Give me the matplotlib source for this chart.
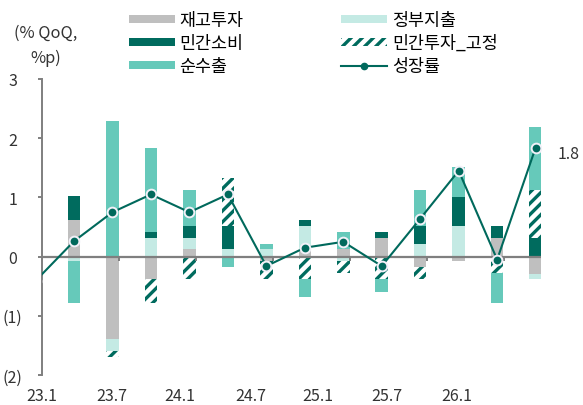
import numpy as np
import matplotlib
matplotlib.use("Agg")
from matplotlib import pyplot as plt
from matplotlib.lines import Line2D

plt.rcParams['font.family'] = ['Noto Sans CJK KR', 'DejaVu Sans']
plt.rcParams['hatch.linewidth'] = 2.4

# quarters (bars), growth line also has the 22.4 point that falls off the left edge
quarters = ['23.1', '23.2', '23.3', '23.4', '24.1', '24.2', '24.3', '24.4',
            '25.1', '25.2', '25.3', '25.4', '26.1']
inventory = [0.61, -1.39, -0.38, 0.12, 0.0, -0.07, 0.09, 0.12, 0.32, -0.18, -0.08, 0.32, -0.30]
government = [-0.08, -0.20, 0.32, 0.20, 0.12, 0.12, 0.42, -0.08, 0.0, 0.22, 0.51, 0.0, -0.08]
consumption = [0.41, 0.0, 0.10, 0.20, 0.39, 0.0, 0.10, 0.0, 0.10, 0.30, 0.50, 0.20, 0.32]
investment = [0.0, -0.11, -0.40, -0.38, 0.81, -0.31, -0.38, -0.20, -0.38, -0.20, 0.0, -0.28, 0.80]
net_exports = [-0.70, 2.29, 1.41, 0.60, -0.18, 0.10, -0.30, 0.30, -0.21, 0.60, 0.50, -0.50, 1.07]
growth = [-0.41, 0.26, 0.75, 1.05, 0.75, 1.05, -0.16, 0.15, 0.25, -0.16, 0.64, 1.45, -0.05, 1.84]

x_labels = ['23.1', '23.7', '24.1', '24.7', '25.1', '25.7', '26.1']
y_ticks = [-2, -1, 0, 1, 2, 3]
y_labels = ['(2)', '(1)', '0', '1', '2', '3']

DARK = '#006B5E'
MID = '#66C9BA'
LIGHT = '#C4EAE4'
GRAY = '#BFBFBF'

fig = plt.figure(figsize=(5.83, 4.06), dpi=100)
ax = fig.add_axes([42 / 583, 1 - 376 / 406, (541 - 42) / 583, (376 - 80) / 406])

x = np.arange(len(quarters))
w = 0.325
pos = np.zeros(len(x))
neg = np.zeros(len(x))
series = [
    (inventory, '재고투자', dict(color=GRAY)),
    (government, '정부지출', dict(color=LIGHT)),
    (consumption, '민간소비', dict(color=DARK)),
    (investment, '민간투자_고정', dict(facecolor='white', edgecolor=DARK, hatch='///', linewidth=0)),
    (net_exports, '순수출', dict(color=MID)),
]
handles = {}
for vals, name, style in series:
    v = np.array(vals)
    bottom = np.where(v >= 0, pos, neg)
    b = ax.bar(x, v, w, bottom=bottom, label=name, zorder=2, **style)
    handles[name] = b
    pos = pos + np.where(v > 0, v, 0)
    neg = neg + np.where(v < 0, v, 0)

ax.axhline(0, color='#7F7F7F', lw=1.6, zorder=3)

gx = np.arange(-1, len(quarters))
line, = ax.plot(gx, growth, color='#00695C', lw=1.5, marker='o', ms=7,
                mfc='#00695C', mec='#F2F0F8', mew=1.4, zorder=4)
ax.annotate(f"{growth[-1]:.1f}", (gx[-1], growth[-1]), xytext=(16, -4),
            textcoords='offset points', fontsize=11.5, color='#333333',
            va='center', ha='left', annotation_clip=False)

ax.set_xlim(-0.832, 12.14)
ax.set_ylim(-2, 3)

# small ticks on the zero line
tick_x = -0.832 + 2 * np.arange(1, 7)
ax.vlines(tick_x, -0.07, 0, color='#7F7F7F', lw=1.4, zorder=3)

ax.set_yticks(y_ticks)
ax.set_yticklabels(y_labels)
ax.tick_params(axis='y', length=3, width=1.4, color='#7F7F7F', pad=18,
               labelsize=11.5, labelcolor='#333333')
for t in ax.get_yticklabels():
    t.set_ha('center')

label_pos = [(p - 74) / 38.46 for p in [42, 112, 180, 251, 318, 387, 457]]
ax.set_xticks(label_pos)
ax.set_xticklabels(x_labels)
ax.tick_params(axis='x', length=0, pad=9, labelsize=11.5, labelcolor='#333333')

for s in ['top', 'right', 'bottom']:
    ax.spines[s].set_visible(False)
ax.spines['left'].set_color('#7F7F7F')
ax.spines['left'].set_linewidth(1.4)

fig.text(46 / 583, 1 - 46 / 406, "(% QoQ,\n%p)", ha='center', va='center',
         fontsize=11.8, color='#333333', linespacing=1.55)

growth_handle = Line2D([], [], color='#00695C', lw=1.5, marker='o', ms=4.5,
                       mfc='#00695C', mec='#00695C')
order = ['재고투자', '민간소비', '순수출', '정부지출', '민간투자_고정']
hs = [handles[n] for n in order] + [growth_handle]
ls = order + ['성장률']
fig.legend(hs, ls, ncol=2, loc='upper left', bbox_to_anchor=(129 / 583, 1 - 12 / 406),
           frameon=False, fontsize=12.5, handlelength=2.65, handleheight=0.35,
           handletextpad=0.25, columnspacing=5.65, labelspacing=0.3, borderpad=0,
           borderaxespad=0)

fig.savefig('out.png', dpi=100)
